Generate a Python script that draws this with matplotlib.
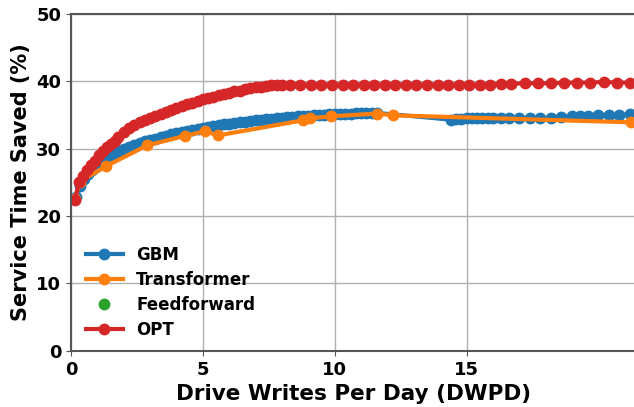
import matplotlib.pyplot as plt

# DWPD vs. service time saved (%)
gbm_x = [0.2, 0.35, 0.5, 0.65, 0.8, 0.95, 1.1, 1.25, 1.4, 1.55, 1.7, 1.85, 2.0,
         2.2, 2.4, 2.6, 2.8, 3.0, 3.2, 3.4, 3.6, 3.8, 4.0, 4.2, 4.4, 4.6, 4.8,
         5.0, 5.2, 5.4, 5.6, 5.8, 6.0, 6.2, 6.4, 6.6, 6.8, 7.0, 7.2, 7.4, 7.6,
         7.8, 8.0, 8.2, 8.4, 8.6, 8.8, 9.0, 9.2, 9.4, 9.6, 9.8, 10.0, 10.2,
         10.4, 10.6, 10.8, 11.0, 11.2, 11.4, 11.6,
         14.4, 14.6, 14.8, 15.0, 15.2, 15.4, 15.6, 15.8, 16.0, 16.3, 16.6,
         17.0, 17.4, 17.8, 18.2, 18.6, 19.0, 19.3, 19.6, 20.0, 20.4, 20.8, 21.2]
gbm_y = [22.8, 24.5, 25.5, 26.2, 26.8, 27.3, 27.8, 28.2, 28.6, 29.0, 29.3, 29.6, 29.9,
         30.2, 30.5, 30.8, 31.1, 31.3, 31.5, 31.7, 31.9, 32.1, 32.3, 32.5, 32.6, 32.8, 32.9,
         33.1, 33.2, 33.3, 33.5, 33.6, 33.7, 33.8, 33.9, 34.0, 34.1, 34.2, 34.3, 34.35, 34.4,
         34.5, 34.6, 34.65, 34.7, 34.8, 34.85, 34.9, 34.95, 35.0, 35.05, 35.1, 35.1, 35.15,
         35.2, 35.2, 35.25, 35.3, 35.3, 35.3, 35.3,
         34.3, 34.4, 34.4, 34.5, 34.5, 34.5, 34.6, 34.6, 34.6, 34.6, 34.5,
         34.5, 34.5, 34.5, 34.6, 34.7, 34.8, 34.9, 34.9, 35.0, 35.0, 35.0, 35.1]

trans_x = [0.15, 0.34, 1.33, 2.9, 4.33, 5.1, 5.56, 8.8, 9.06, 9.87, 11.62, 12.2, 21.25]
trans_y = [22.6, 25.1, 27.4, 30.5, 31.9, 32.6, 31.95, 34.2, 34.5, 34.8, 35.2, 34.95, 33.9]

ff_x = []
ff_y = []

opt_x = [0.15, 0.3, 0.45, 0.6, 0.75, 0.9, 1.05, 1.2, 1.35, 1.5, 1.65, 1.8, 2.0,
         2.2, 2.4, 2.6, 2.8, 3.0, 3.2, 3.4, 3.6, 3.8, 4.0, 4.2, 4.4, 4.6, 4.8,
         5.0, 5.2, 5.4, 5.6, 5.8, 6.0, 6.2, 6.4, 6.6, 6.8, 7.0, 7.2, 7.4, 7.6,
         7.8, 8.0, 8.3, 8.7, 9.1, 9.5, 9.9, 10.3, 10.7, 11.1, 11.5, 11.9, 12.3,
         12.7, 13.1, 13.5, 13.9, 14.3, 14.7, 15.1, 15.5, 15.9, 16.3, 16.7, 17.2,
         17.7, 18.2, 18.7, 19.2, 19.7, 20.2, 20.7, 21.2]
opt_y = [22.4, 25.0, 26.0, 26.8, 27.5, 28.2, 29.0, 29.7, 30.2, 30.7, 31.2, 31.7, 32.4,
         33.0, 33.5, 33.9, 34.3, 34.6, 34.9, 35.2, 35.5, 35.7, 36.0, 36.3, 36.6, 36.8, 37.0,
         37.3, 37.5, 37.7, 37.9, 38.1, 38.3, 38.5, 38.6, 38.8, 39.0, 39.1, 39.2, 39.3, 39.4,
         39.5, 39.5, 39.5, 39.5, 39.5, 39.5, 39.5, 39.5, 39.5, 39.5, 39.5, 39.5, 39.5,
         39.5, 39.5, 39.5, 39.5, 39.5, 39.5, 39.5, 39.5, 39.5, 39.6, 39.6, 39.7,
         39.7, 39.7, 39.8, 39.8, 39.8, 39.9, 39.8, 39.8]

plt.rcParams['font.weight'] = 'bold'
plt.rcParams['axes.labelweight'] = 'bold'

fig = plt.figure(figsize=(6.34, 4.07), dpi=100)
ax = fig.add_axes([0.112, 0.138, 0.89, 0.828])

ax.plot(gbm_x, gbm_y, '-o', c='tab:blue', lw=3, ms=7.5, label='GBM')
ax.plot(trans_x, trans_y, '-o', c='tab:orange', lw=3, ms=7.5, label='Transformer')
ax.plot(ff_x, ff_y, 'o', c='tab:green', ms=7.5, label='Feedforward')
ax.plot(opt_x, opt_y, '-o', c='tab:red', lw=3, ms=7.5, label='OPT')

ax.set_xlim(0, 21.4)
ax.set_ylim(0, 50)
ax.set_xticks([0, 5, 10, 15])
ax.set_yticks([0, 10, 20, 30, 40, 50])
ax.tick_params(labelsize=13, colors='#555555', labelcolor='black')
ax.grid(True, color='#b0b0b0', lw=1)
ax.set_axisbelow(True)
for s in ax.spines.values():
    s.set_color('#555555')
    s.set_linewidth(1.5)
ax.spines['right'].set_visible(False)

ax.set_xlabel('Drive Writes Per Day (DWPD)', fontsize=15.5)
ax.set_ylabel('Service Time Saved (%)', fontsize=15)
ax.legend(loc='lower left', bbox_to_anchor=(0.0, -0.01), frameon=False,
          fontsize=12, handlelength=2.2, labelspacing=0.42)

fig.savefig('out.png', dpi=100)
